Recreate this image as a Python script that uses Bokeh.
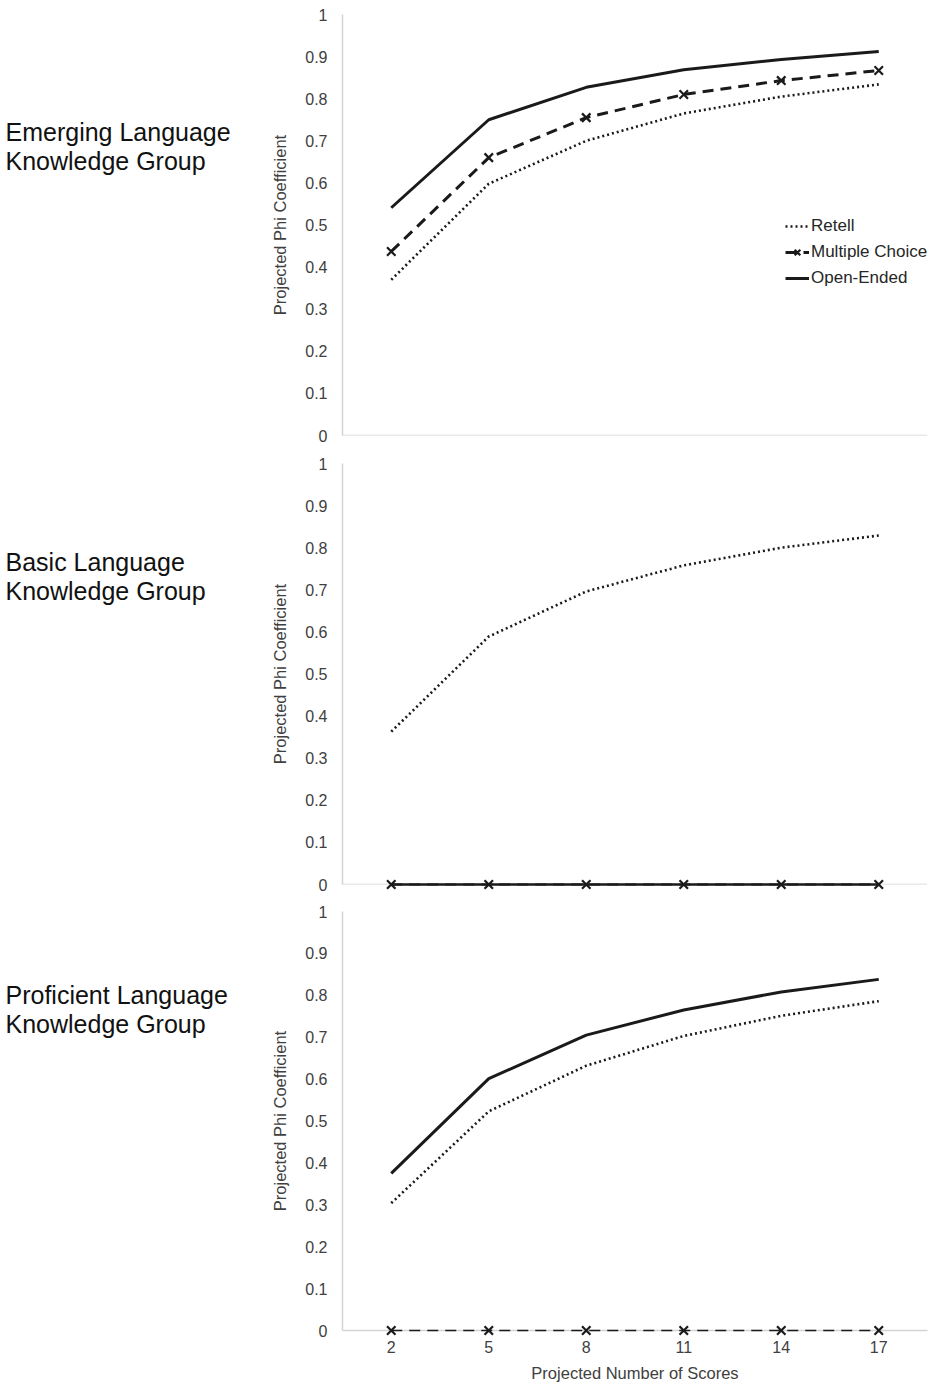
from bokeh.plotting import figure
from bokeh.models import Range1d, FactorRange, Span, Legend, LegendItem, FixedTicker
from bokeh.core.properties import value
from bokeh.layouts import column
from bokeh.embed import file_html
from bokeh.resources import INLINE

# ---------------- data ----------------
scores = ["2", "5", "8", "11", "14", "17"]
y_ticks = [0, 0.1, 0.2, 0.3, 0.4, 0.5, 0.6, 0.7, 0.8, 0.9, 1]
y_tick_labels = ["0", "0.1", "0.2", "0.3", "0.4", "0.5", "0.6", "0.7", "0.8", "0.9", "1"]

series_names = ["Retell", "Multiple Choice", "Open-Ended"]
group_names = [("Emerging Language", "Knowledge Group"),
               ("Basic Language", "Knowledge Group"),
               ("Proficient Language", "Knowledge Group")]

emerging_retell = [0.370, 0.598, 0.700, 0.765, 0.805, 0.834]
emerging_mc = [0.437, 0.660, 0.755, 0.810, 0.843, 0.867]
emerging_open = [0.541, 0.750, 0.827, 0.869, 0.893, 0.912]

basic_retell = [0.363, 0.589, 0.696, 0.758, 0.800, 0.829]
basic_mc = [0, 0, 0, 0, 0, 0]
basic_open = [0, 0, 0, 0, 0, 0]

prof_retell = [0.304, 0.523, 0.632, 0.703, 0.751, 0.786]
prof_mc = [0, 0, 0, 0, 0, 0]
prof_open = [0.375, 0.601, 0.705, 0.765, 0.808, 0.838]

# ---------------- style ----------------
FONT = "Liberation Sans"
INK = "#1a1a1a"
AXIS_GREY = "#d4d4d4"
TEXT_GREY = "#404040"
LEFT = 342
BAND = (935 - 8 - LEFT) / len(scores)


def make_panel(height, top, bottom, retell, mc, opn, group, show_x, mc_width, open_width,
               legend=False, label_ys=(0.7, 0.63)):
    p = figure(width=935, height=height, x_range=FactorRange(*scores), y_range=Range1d(0, 1),
               output_backend="svg", toolbar_location=None,
               min_border_left=LEFT, min_border_right=8, min_border_top=top, min_border_bottom=bottom)
    p.outline_line_color = None
    p.xgrid.grid_line_color = None
    p.ygrid.grid_line_color = None
    p.background_fill_color = "white"

    ya = p.yaxis[0]
    ya.ticker = FixedTicker(ticks=y_ticks)
    ya.major_label_overrides = dict(zip(y_ticks, y_tick_labels))
    ya.major_tick_out = 0
    ya.major_tick_in = 0
    ya.minor_tick_out = 0
    ya.minor_tick_in = 0
    ya.axis_line_color = AXIS_GREY
    ya.axis_line_width = 1.5
    ya.major_label_standoff = 15
    ya.major_label_text_font = FONT
    ya.major_label_text_font_size = "16px"
    ya.major_label_text_color = TEXT_GREY
    ya.axis_label = "Projected Phi Coefficient"
    ya.axis_label_text_font = FONT
    ya.axis_label_text_font_size = "16.5px"
    ya.axis_label_text_font_style = "normal"
    ya.axis_label_text_color = TEXT_GREY
    ya.axis_label_standoff = 13

    if show_x:
        xa = p.xaxis[0]
        xa.major_tick_out = 0
        xa.major_tick_in = 0
        xa.axis_line_color = AXIS_GREY
        xa.axis_line_width = 1.5
        xa.major_label_standoff = 10
        xa.major_label_text_font = FONT
        xa.major_label_text_font_size = "16px"
        xa.major_label_text_color = TEXT_GREY
        xa.axis_label = "Projected Number of Scores"
        xa.axis_label_text_font = FONT
        xa.axis_label_text_font_size = "16.5px"
        xa.axis_label_text_font_style = "normal"
        xa.axis_label_text_color = TEXT_GREY
        xa.axis_label_standoff = 8
    else:
        p.xaxis.visible = False
        p.add_layout(Span(location=0, dimension="width", line_color=AXIS_GREY, line_width=1.5))

    r_ret = p.line(scores, retell, line_color=INK, line_width=2.6, line_dash="2 3", level="overlay")
    r_mc = p.line(scores, mc, line_color=INK, line_width=mc_width, line_dash="11 7", level="overlay")
    r_mcx = p.scatter(scores, mc, marker="x", size=12, line_color=INK, line_width=2.2, level="overlay")
    r_open = p.line(scores, opn, line_color=INK, line_width=open_width, level="overlay")

    if legend:
        lg = Legend(items=[LegendItem(label=series_names[0], renderers=[r_ret]),
                           LegendItem(label=series_names[1], renderers=[r_mc, r_mcx]),
                           LegendItem(label=series_names[2], renderers=[r_open])],
                    location=(443, 147), padding=0, margin=0, spacing=6,
                    glyph_width=24, glyph_height=20, label_height=20, label_standoff=2,
                    label_text_font=FONT, label_text_font_size="17px", label_text_color="#262626",
                    border_line_color=None, background_fill_alpha=0)
        p.add_layout(lg)

    # group caption: anchored at the first category, shifted left to page x = 5
    p.text(x=[scores[0]] * len(group), y=list(label_ys), text=list(group),
           x_offset=-(LEFT - 5 + BAND / 2), text_font=value(FONT), text_font_size="25px",
           text_color="#111111", text_align="left", text_baseline="middle", level="overlay")
    return p


p1 = make_panel(449, 14, 14, emerging_retell, emerging_mc, emerging_open, group_names[0],
                False, 3, 3, legend=True, label_ys=(0.722, 0.653))
p2 = make_panel(448, 14, 13, basic_retell, basic_mc, basic_open, group_names[1],
                False, 2, 2.5, label_ys=(0.767, 0.698))
p3 = make_panel(487, 14, 53, prof_retell, prof_mc, prof_open, group_names[2],
                True, 1.5, 3, label_ys=(0.800, 0.731))

layout = column(p1, p2, p3, spacing=0)
open("out.html", "w").write(file_html(layout, INLINE))
